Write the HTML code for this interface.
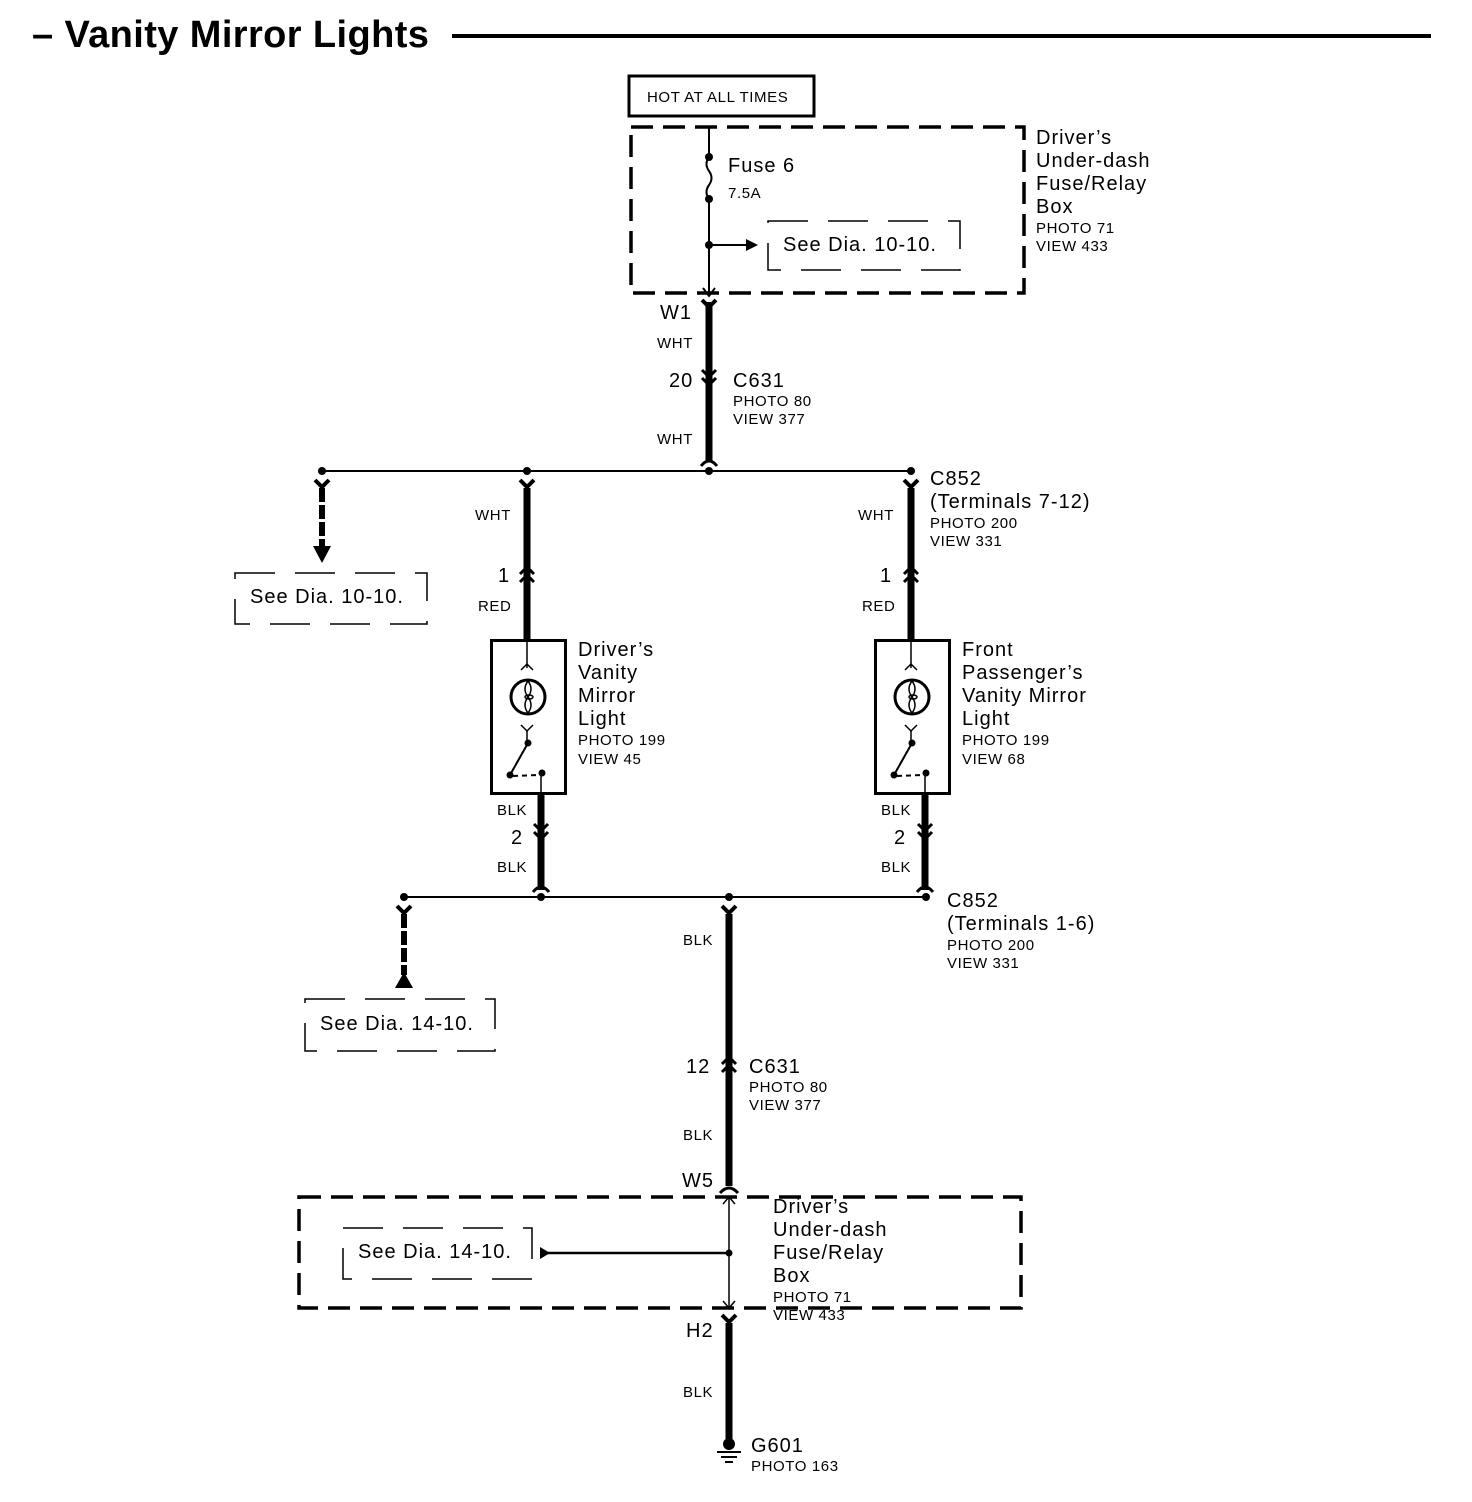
<!DOCTYPE html>
<html><head><meta charset="utf-8"><style>
html,body{margin:0;padding:0;background:#fff}
svg{display:block}
text{font-family:"Liberation Sans",Arial,sans-serif;fill:#000}
.b{font-size:20px;letter-spacing:1px}.s{font-size:15px;letter-spacing:0.6px}
</style></head><body>
<svg width="1472" height="1502" viewBox="0 0 1472 1502" xmlns="http://www.w3.org/2000/svg">
<defs>
<g id="cdn"><polyline points="-7,-6 0,1 7,-6" fill="none" stroke="#000" stroke-width="3"/><polyline points="-7,2 0,9 7,2" fill="none" stroke="#000" stroke-width="3"/></g>
<g id="cup"><polyline points="-7,6 0,-1 7,6" fill="none" stroke="#000" stroke-width="3"/><polyline points="-7,-2 0,-9 7,-2" fill="none" stroke="#000" stroke-width="3"/></g>
<g id="yy"><polyline points="-7,-6 0,1 7,-6" fill="none" stroke="#000" stroke-width="4"/></g>
<g id="arcu"><path d="M-8,6 Q0,-4 8,6" fill="none" stroke="#000" stroke-width="3"/></g>
</defs>
<text x="32" y="47" style="font-size:38px;font-weight:bold;letter-spacing:0.4px">– Vanity Mirror Lights</text>
<line x1="452" y1="36" x2="1431" y2="36" stroke="#000" stroke-width="4"/>

<rect x="629" y="76" width="185" height="40" fill="none" stroke="#000" stroke-width="3"/>
<text x="647" y="102" class="s">HOT AT ALL TIMES</text>
<rect x="631" y="127" width="393" height="166" fill="none" stroke="#000" stroke-width="3.5" stroke-dasharray="22,10"/>
<line x1="709" y1="126" x2="709" y2="157" stroke="#000" stroke-width="2"/>
<path d="M709,157 q-5,7 0,14 q5,7 0,14 q-5,7 0,14" fill="none" stroke="#000" stroke-width="2"/>
<line x1="709" y1="199" x2="709" y2="296" stroke="#000" stroke-width="2"/>
<circle cx="709" cy="157" r="4"/><circle cx="709" cy="199" r="4"/><circle cx="709" cy="245" r="4"/>
<line x1="709" y1="245" x2="748" y2="245" stroke="#000" stroke-width="2"/>
<polygon points="746,239 758,245 746,251"/>
<polyline points="703,288 709,296 715,288" fill="none" stroke="#000" stroke-width="2"/>
<rect x="768" y="221" width="192" height="49" fill="none" stroke="#000" stroke-width="1.5" stroke-dasharray="40,20"/>
<text x="783" y="251" class="b">See Dia. 10-10.</text>
<text x="728" y="172" class="b">Fuse 6</text>
<text x="728" y="198" class="s">7.5A</text>
<text x="1036" y="144" class="b">Driver’s</text>
<text x="1036" y="167" class="b">Under-dash</text>
<text x="1036" y="190" class="b">Fuse/Relay</text>
<text x="1036" y="213" class="b">Box</text>
<text x="1036" y="233" class="s">PHOTO 71</text>
<text x="1036" y="251" class="s">VIEW 433</text>

<line x1="709" y1="302" x2="709" y2="462" stroke="#000" stroke-width="7"/>
<use href="#yy" x="709" y="306"/>
<use href="#cdn" x="709" y="376"/>
<use href="#arcu" x="709" y="460"/>
<text x="660" y="319" class="b">W1</text>
<text x="657" y="348" class="s">WHT</text>
<text x="669" y="387" class="b">20</text>
<text x="733" y="387" class="b">C631</text>
<text x="733" y="406" class="s">PHOTO 80</text>
<text x="733" y="424" class="s">VIEW 377</text>
<text x="657" y="444" class="s">WHT</text>

<line x1="322" y1="471" x2="911" y2="471" stroke="#000" stroke-width="2"/>
<circle cx="322" cy="471" r="4"/><circle cx="527" cy="471" r="4"/><circle cx="709" cy="471" r="4"/><circle cx="911" cy="471" r="4"/>

<use href="#yy" x="322" y="486"/>
<line x1="322" y1="488" x2="322" y2="548" stroke="#000" stroke-width="6" stroke-dasharray="14,3"/>
<polygon points="313,546 331,546 322,563"/>
<rect x="235" y="573" width="192" height="51" fill="none" stroke="#000" stroke-width="1.5" stroke-dasharray="40,20"/>
<text x="250" y="603" class="b">See Dia. 10-10.</text>

<g id="lamp">
<use href="#yy" x="527" y="486"/>
<line x1="527" y1="488" x2="527" y2="640" stroke="#000" stroke-width="7"/>
<use href="#cup" x="527" y="576"/>
<rect x="491.5" y="640.5" width="74" height="153" fill="none" stroke="#000" stroke-width="3"/>
<line x1="527" y1="642" x2="527" y2="668" stroke="#000" stroke-width="1.5"/>
<polyline points="521,670 527,664 533,670" fill="none" stroke="#000" stroke-width="1.5"/>
<circle cx="528" cy="697" r="17" fill="none" stroke="#000" stroke-width="3"/>
<path d="M528,681 q-6,8 0,16 q-6,8 0,16 M528,681 q6,8 0,16 q6,8 0,16" fill="none" stroke="#000" stroke-width="1.5"/>
<ellipse cx="529" cy="697" rx="4" ry="2" fill="none" stroke="#000" stroke-width="1.5"/>
<polyline points="521,725 527,731 533,725" fill="none" stroke="#000" stroke-width="1.5"/>
<line x1="527" y1="731" x2="527" y2="742" stroke="#000" stroke-width="1.5"/>
<circle cx="528" cy="743" r="3.5"/>
<line x1="528" y1="743" x2="510" y2="775" stroke="#000" stroke-width="2"/>
<circle cx="510" cy="775" r="3.5"/><circle cx="542" cy="773" r="3.5"/>
<line x1="513" y1="776" x2="539" y2="775" stroke="#000" stroke-width="2" stroke-dasharray="5,4"/>
<line x1="541" y1="773" x2="541" y2="794" stroke="#000" stroke-width="1.5"/>
<line x1="541" y1="794" x2="541" y2="890" stroke="#000" stroke-width="7"/>
<use href="#cdn" x="541" y="830"/>
<use href="#arcu" x="541" y="886"/>
</g>
<use href="#lamp" x="384" y="0"/>
<text x="475" y="520" class="s">WHT</text>
<text x="498" y="582" class="b">1</text>
<text x="478" y="611" class="s">RED</text>
<text x="578" y="656" class="b">Driver’s</text>
<text x="578" y="679" class="b">Vanity</text>
<text x="578" y="702" class="b">Mirror</text>
<text x="578" y="725" class="b">Light</text>
<text x="578" y="745" class="s">PHOTO 199</text>
<text x="578" y="764" class="s">VIEW 45</text>
<text x="497" y="815" class="s">BLK</text>
<text x="511" y="844" class="b">2</text>
<text x="497" y="872" class="s">BLK</text>

<text x="858" y="520" class="s">WHT</text>
<text x="880" y="582" class="b">1</text>
<text x="862" y="611" class="s">RED</text>
<text x="930" y="485" class="b">C852</text>
<text x="930" y="508" class="b">(Terminals 7-12)</text>
<text x="930" y="528" class="s">PHOTO 200</text>
<text x="930" y="546" class="s">VIEW 331</text>
<text x="962" y="656" class="b">Front</text>
<text x="962" y="679" class="b">Passenger’s</text>
<text x="962" y="702" class="b">Vanity Mirror</text>
<text x="962" y="725" class="b">Light</text>
<text x="962" y="745" class="s">PHOTO 199</text>
<text x="962" y="764" class="s">VIEW 68</text>
<text x="881" y="815" class="s">BLK</text>
<text x="894" y="844" class="b">2</text>
<text x="881" y="872" class="s">BLK</text>

<line x1="404" y1="897" x2="926" y2="897" stroke="#000" stroke-width="2"/>
<circle cx="404" cy="897" r="4"/><circle cx="541" cy="897" r="4"/><circle cx="729" cy="897" r="4"/><circle cx="926" cy="897" r="4"/>
<text x="947" y="907" class="b">C852</text>
<text x="947" y="930" class="b">(Terminals 1-6)</text>
<text x="947" y="950" class="s">PHOTO 200</text>
<text x="947" y="968" class="s">VIEW 331</text>

<use href="#yy" x="404" y="912"/>
<line x1="404" y1="914" x2="404" y2="975" stroke="#000" stroke-width="6" stroke-dasharray="14,3"/>
<polygon points="395,988 413,988 404,972"/>
<rect x="305" y="999" width="190" height="52" fill="none" stroke="#000" stroke-width="1.5" stroke-dasharray="40,20"/>
<text x="320" y="1030" class="b">See Dia. 14-10.</text>

<use href="#yy" x="729" y="912"/>
<line x1="729" y1="914" x2="729" y2="1186" stroke="#000" stroke-width="7"/>
<use href="#cup" x="729" y="1066"/>
<text x="683" y="945" class="s">BLK</text>
<text x="686" y="1073" class="b">12</text>
<text x="749" y="1073" class="b">C631</text>
<text x="749" y="1092" class="s">PHOTO 80</text>
<text x="749" y="1110" class="s">VIEW 377</text>
<text x="683" y="1140" class="s">BLK</text>
<text x="682" y="1187" class="b">W5</text>
<path d="M720,1193 Q729,1183 738,1193" fill="none" stroke="#000" stroke-width="3"/>

<rect x="299" y="1197" width="722" height="111" fill="none" stroke="#000" stroke-width="3.5" stroke-dasharray="22,10"/>
<line x1="729" y1="1197" x2="729" y2="1308" stroke="#000" stroke-width="1.5"/>
<polyline points="723,1204 729,1197 735,1204" fill="none" stroke="#000" stroke-width="1.5"/>
<polyline points="723,1301 729,1308 735,1301" fill="none" stroke="#000" stroke-width="1.5"/>
<circle cx="729" cy="1253" r="3.5"/>
<line x1="545" y1="1253" x2="729" y2="1253" stroke="#000" stroke-width="2.5"/>
<polygon points="540,1247 550,1253 540,1259"/>
<rect x="343" y="1228" width="189" height="51" fill="none" stroke="#000" stroke-width="1.5" stroke-dasharray="40,20"/>
<text x="358" y="1258" class="b">See Dia. 14-10.</text>
<text x="773" y="1213" class="b">Driver’s</text>
<text x="773" y="1236" class="b">Under-dash</text>
<text x="773" y="1259" class="b">Fuse/Relay</text>
<text x="773" y="1282" class="b">Box</text>
<text x="773" y="1302" class="s">PHOTO 71</text>
<text x="773" y="1320" class="s">VIEW 433</text>

<use href="#yy" x="729" y="1321"/>
<line x1="729" y1="1323" x2="729" y2="1440" stroke="#000" stroke-width="7"/>
<text x="686" y="1337" class="b">H2</text>
<text x="683" y="1397" class="s">BLK</text>
<circle cx="729" cy="1444" r="6"/>
<line x1="717" y1="1452" x2="741" y2="1452" stroke="#000" stroke-width="2"/>
<line x1="721" y1="1457" x2="737" y2="1457" stroke="#000" stroke-width="2"/>
<line x1="725" y1="1462" x2="733" y2="1462" stroke="#000" stroke-width="2"/>
<text x="751" y="1452" class="b">G601</text>
<text x="751" y="1471" class="s">PHOTO 163</text>
</svg>
</body></html>
